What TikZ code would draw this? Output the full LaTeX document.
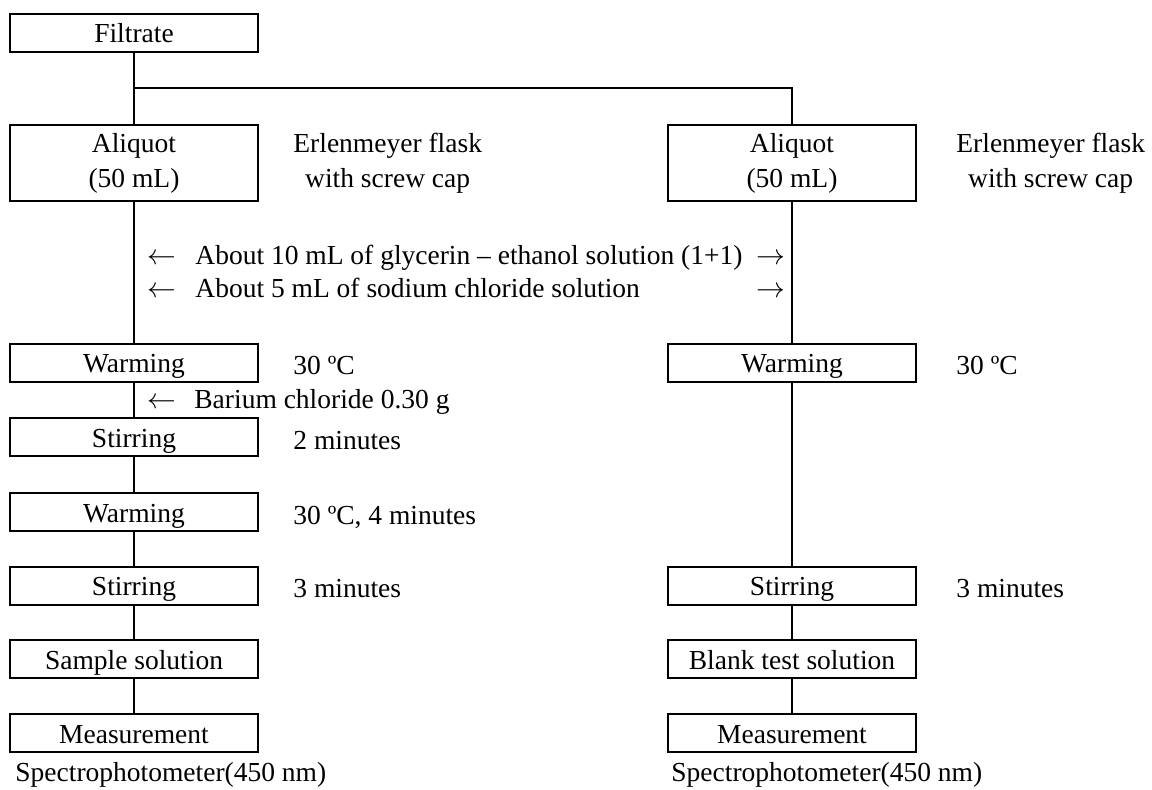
\documentclass[tikz,border=0pt]{standalone}
\usepackage{fontspec}
\setmainfont{Liberation Serif}
\newcommand{\twolines}[2]{\raisebox{-1.5pt}{\renewcommand{\arraystretch}{0.946}\begin{tabular}{@{}c@{}}#1\\#2\end{tabular}}}
\begin{document}
\begin{tikzpicture}[x=0.5pt,y=-0.5pt,
  every node/.style={font=\fontsize{13.75}{18.5}\selectfont, inner sep=0pt},
  box/.style={draw, line width=1pt, minimum width=124pt, minimum height=19pt, text height=11pt, text depth=1pt},
  tallbox/.style={draw, line width=1pt, minimum width=124pt, minimum height=38pt},
  lbl/.style={anchor=west, text height=11pt, text depth=1pt},
  lblr/.style={anchor=east, text height=11pt, text depth=1pt},
  link/.style={line width=1pt}]
\useasboundingbox (0,0) rectangle (1152,790);

% left column
\node[box] (f) at (134,33) {Filtrate};
\node[tallbox] (a1) at (134,163) {\twolines{Aliquot}{(50 mL)}};
\node[box] (w1) at (134,363) {Warming};
\node[box] (s1) at (134,437.5) {Stirring};
\node[box] (w2) at (134,512.5) {Warming};
\node[box] (s2) at (134,586) {Stirring};
\node[box] (sa) at (134,659.5) {Sample solution};
\node[box] (m1) at (134,733.5) {Measurement};

% right column
\node[tallbox] (a2) at (792,163) {\twolines{Aliquot}{(50 mL)}};
\node[box] (w3) at (792,363) {Warming};
\node[box] (s3) at (792,586) {Stirring};
\node[box] (bl) at (792,659.5) {Blank test solution};
\node[box] (m2) at (792,733.5) {Measurement};

% connectors
\coordinate (br) at (134,88);
\draw[link] (f.south) -- (a1.north);
\draw[link] (br) -| (a2.north);
\draw[link] (a1.south) -- (w1.north);
\draw[link] (w1.south) -- (s1.north);
\draw[link] (s1.south) -- (w2.north);
\draw[link] (w2.south) -- (s2.north);
\draw[link] (s2.south) -- (sa.north);
\draw[link] (sa.south) -- (m1.north);
\draw[link] (a2.south) -- (w3.north);
\draw[link] (w3.south) -- (s3.north);
\draw[link] (s3.south) -- (bl.north);
\draw[link] (bl.south) -- (m2.north);

% side labels
\node[anchor=west] (e1) at (293,163) {\twolines{Erlenmeyer flask}{with screw cap}};
\node[anchor=west] (e2) at (956,163) {\twolines{Erlenmeyer flask}{with screw cap}};
\node[lbl] (t1) at (293,365) {30 ºC};
\node[lbl] (t2) at (293,439.5) {2 minutes};
\node[lbl] (t3) at (293,514.5) {30 ºC, 4 minutes};
\node[lbl] (t4) at (293,588) {3 minutes};
\node[lbl] (t5) at (956,365) {30 ºC};
\node[lbl] (t6) at (956,588) {3 minutes};

% reagent additions
\node[lbl] (la1) at (147,255) {$\leftarrow$};
\node[lbl] (r1) at (195,255) {About 10 mL of glycerin – ethanol solution (1+1)};
\node[lblr] (ra1) at (786,255) {$\rightarrow$};
\node[lbl] (la2) at (147,288) {$\leftarrow$};
\node[lbl] (r2) at (195,288) {About 5 mL of sodium chloride solution};
\node[lblr] (ra2) at (786,288) {$\rightarrow$};
\node[lbl] (la3) at (147,399) {$\leftarrow$};
\node[lbl] (r3) at (194,399) {Barium chloride 0.30 g};

% instrument
\node[lbl] (sp1) at (15,772) {Spectrophotometer(450 nm)};
\node[lbl] (sp2) at (671,772) {Spectrophotometer(450 nm)};
\end{tikzpicture}
\end{document}
